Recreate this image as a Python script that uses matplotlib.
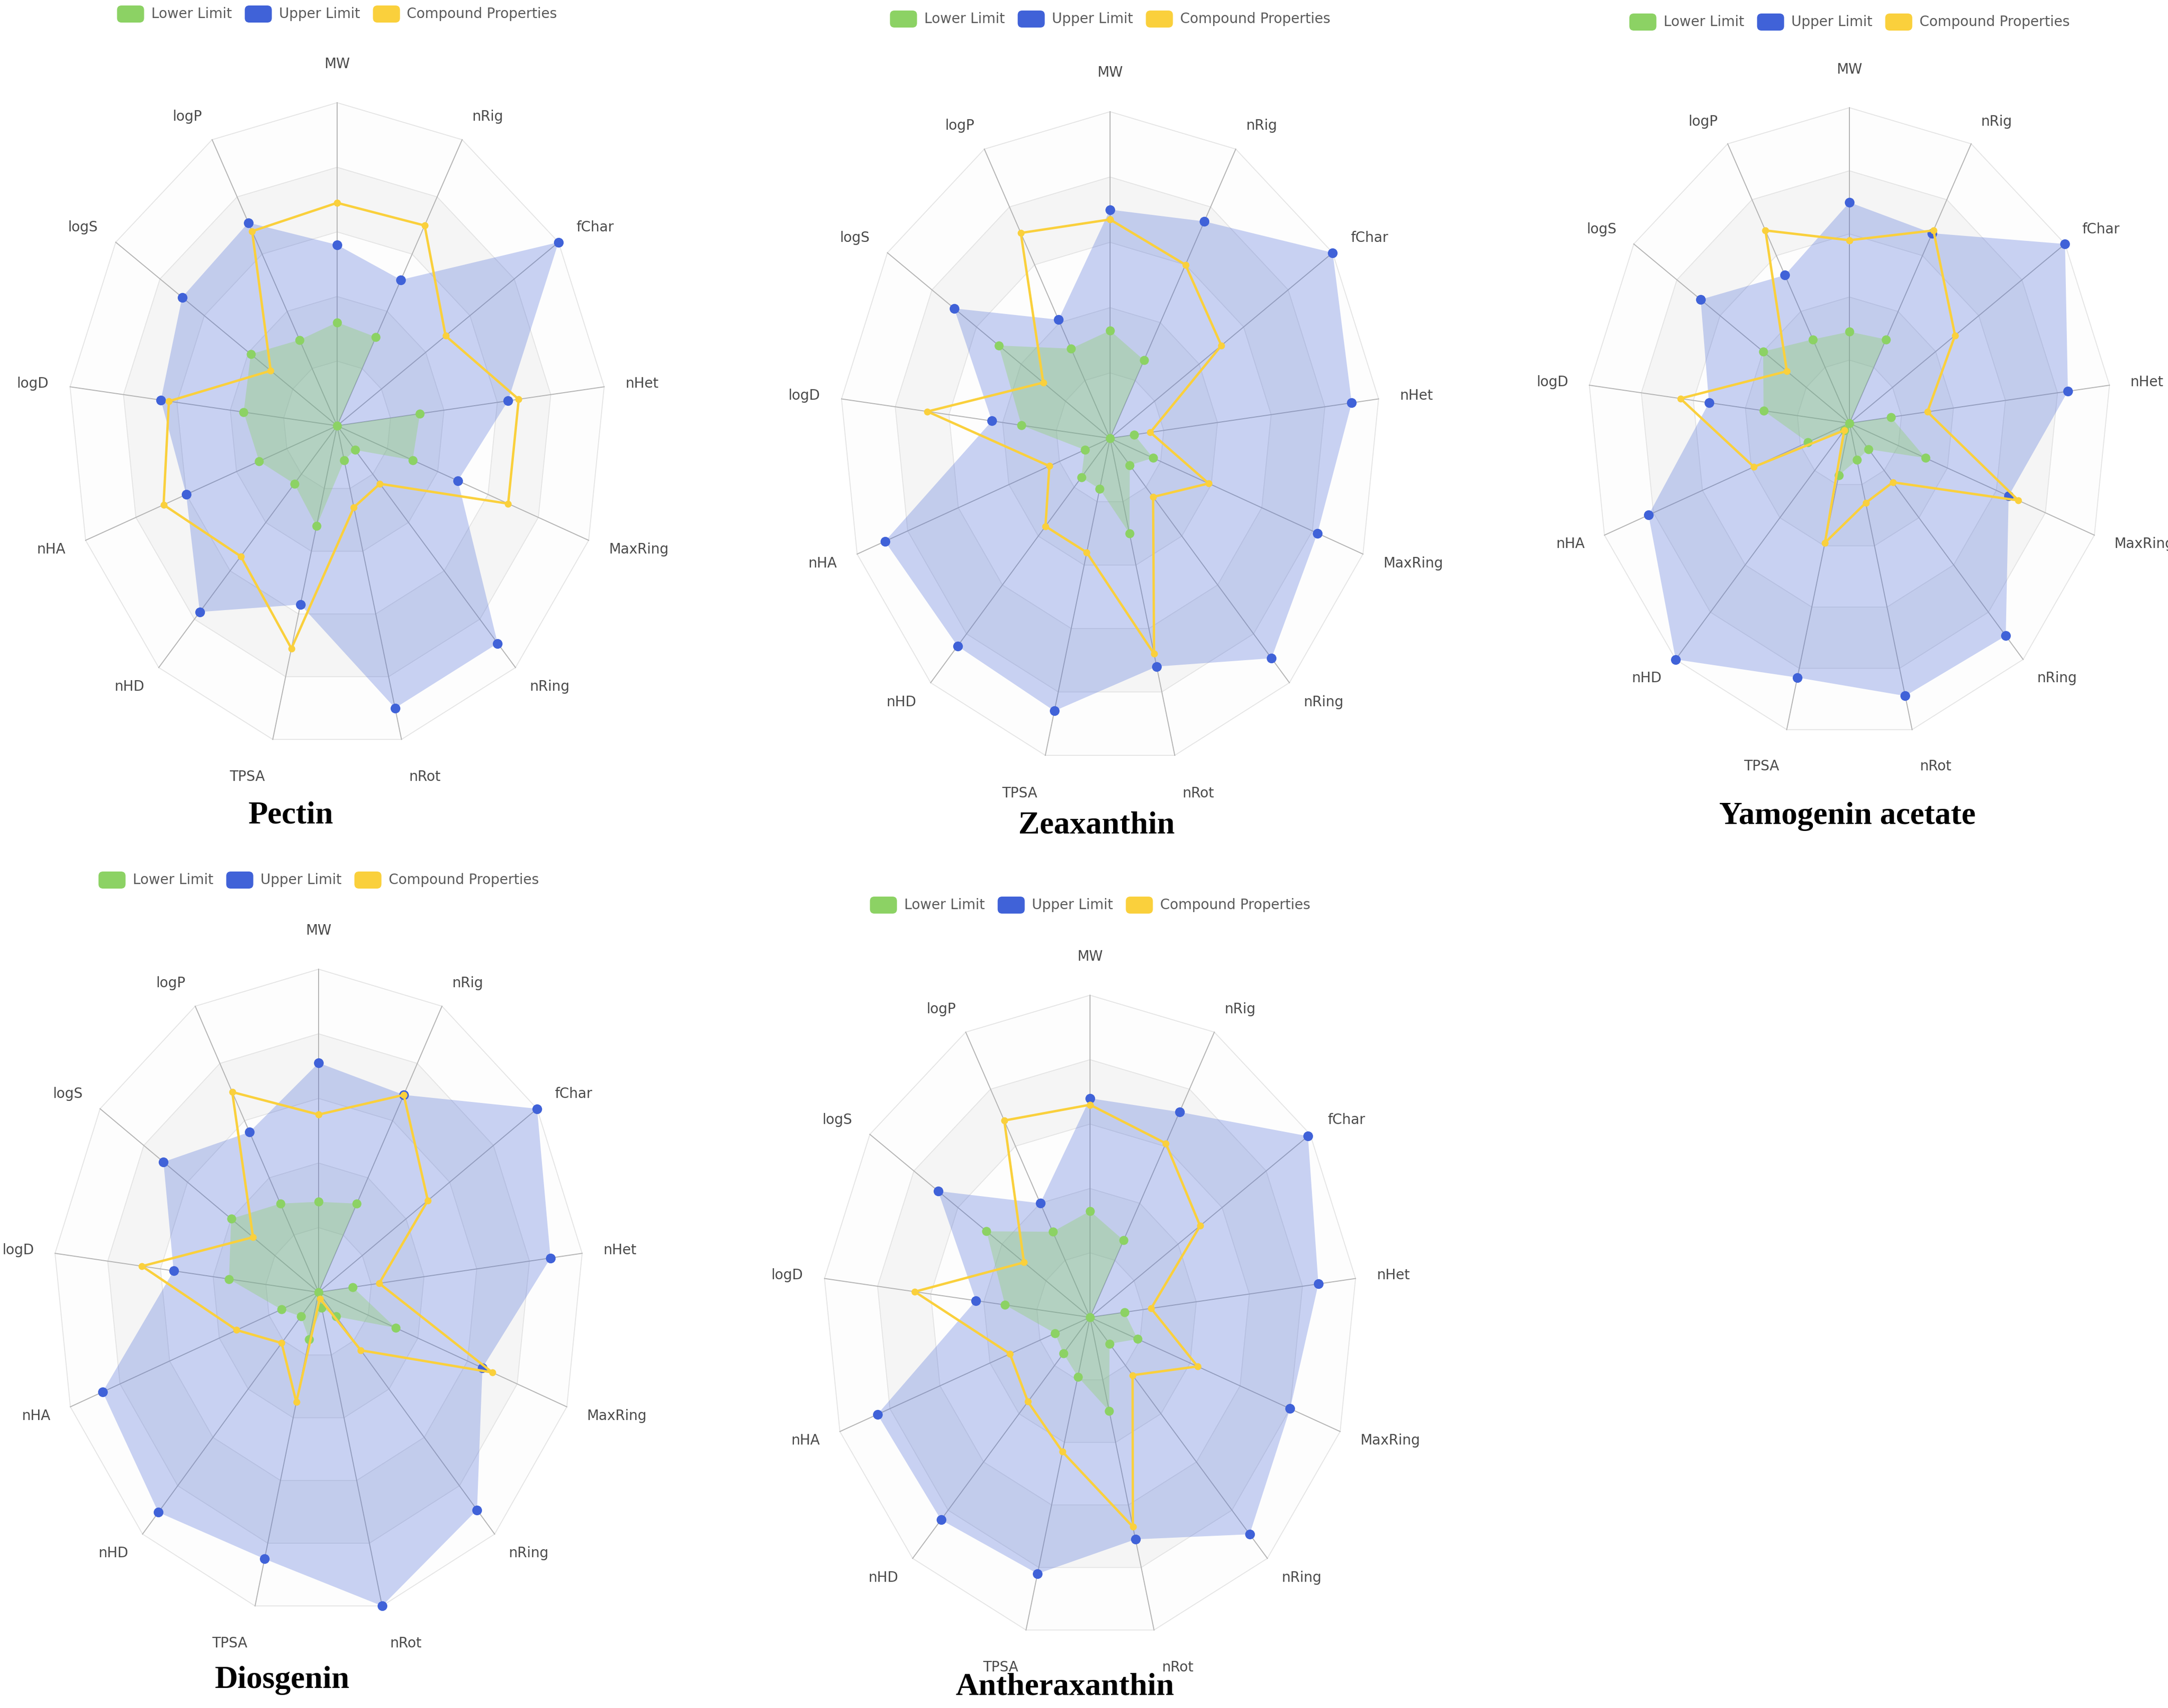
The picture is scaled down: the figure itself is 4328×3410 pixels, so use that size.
import numpy as np
import matplotlib.pyplot as plt
from matplotlib.patches import FancyBboxPatch

W, H = 4328, 3410

axis_names = ['MW', 'nRig', 'fChar', 'nHet', 'MaxRing', 'nRing', 'nRot',
              'TPSA', 'nHD', 'nHA', 'logD', 'logS', 'logP']

legend_names = ['Lower Limit', 'Upper Limit', 'Compound Properties']

# values, as a fraction of the outer ring
pectin_lower = [0.32, 0.31, 0.0, 0.31, 0.30, 0.10, 0.11, 0.32, 0.24, 0.31, 0.35, 0.39, 0.30]
pectin_upper = [0.56, 0.51, 1.0, 0.64, 0.48, 0.90, 0.90, 0.57, 0.77, 0.60, 0.66, 0.70, 0.71]
pectin_props = [0.69, 0.70, 0.49, 0.68, 0.68, 0.24, 0.26, 0.71, 0.54, 0.69, 0.63, 0.30, 0.68]

zeax_lower = [0.33, 0.27, 0.0, 0.09, 0.17, 0.11, 0.30, 0.16, 0.16, 0.10, 0.33, 0.50, 0.31]
zeax_upper = [0.70, 0.75, 1.0, 0.90, 0.82, 0.90, 0.72, 0.86, 0.85, 0.89, 0.44, 0.70, 0.41]
zeax_props = [0.67, 0.60, 0.50, 0.15, 0.39, 0.24, 0.68, 0.36, 0.36, 0.24, 0.68, 0.30, 0.71]

yamo_lower = [0.29, 0.30, 0.0, 0.16, 0.31, 0.11, 0.12, 0.17, 0.03, 0.17, 0.33, 0.40, 0.30]
yamo_upper = [0.70, 0.68, 1.0, 0.84, 0.65, 0.90, 0.89, 0.83, 1.0, 0.82, 0.54, 0.69, 0.53]
yamo_props = [0.58, 0.69, 0.49, 0.30, 0.69, 0.25, 0.26, 0.39, 0.03, 0.39, 0.65, 0.29, 0.69]

dios_lower = [0.28, 0.31, 0.0, 0.13, 0.31, 0.10, 0.05, 0.15, 0.10, 0.15, 0.34, 0.40, 0.31]
dios_upper = [0.71, 0.69, 1.0, 0.88, 0.66, 0.90, 1.0, 0.85, 0.91, 0.87, 0.55, 0.71, 0.56]
dios_props = [0.55, 0.69, 0.50, 0.23, 0.70, 0.24, 0.02, 0.35, 0.21, 0.33, 0.67, 0.30, 0.70]

anth_lower = [0.33, 0.27, 0.0, 0.13, 0.19, 0.11, 0.30, 0.19, 0.15, 0.14, 0.32, 0.47, 0.30]
anth_upper = [0.68, 0.72, 0.99, 0.86, 0.80, 0.90, 0.71, 0.82, 0.84, 0.85, 0.43, 0.69, 0.40]
anth_props = [0.66, 0.61, 0.50, 0.23, 0.43, 0.24, 0.67, 0.43, 0.35, 0.32, 0.66, 0.30, 0.69]

titles = ['Pectin', 'Zeaxanthin', 'Yamogenin acetate', 'Diosgenin', 'Antheraxanthin']
lowers = [pectin_lower, zeax_lower, yamo_lower, dios_lower, anth_lower]
uppers = [pectin_upper, zeax_upper, yamo_upper, dios_upper, anth_upper]
props = [pectin_props, zeax_props, yamo_props, dios_props, anth_props]

# layout (pixels, y from top)
centers = [(673, 850), (2216, 875), (3692, 845), (636, 2580), (2176, 2630)]
radii = [(537, 645), (540, 652), (523, 630), (530, 645), (534, 643)]
legend_y = [28, 38, 44, 1757, 1807]
title_pos = [(581, 1628), (2189, 1648), (3688, 1630), (564, 3355), (2126, 3368)]

green = '#8cd264'
blue = '#4062d8'
yellow = '#fad03c'

fig = plt.figure(figsize=(W / 100, H / 100), dpi=100)
fig.patch.set_facecolor('white')
over = fig.add_axes([0, 0, 1, 1], zorder=5)
over.set_xlim(0, W)
over.set_ylim(H, 0)
over.axis('off')
renderer = fig.canvas.get_renderer()

n = len(axis_names)
theta = 2 * np.pi * np.arange(n) / n
sx, sy = np.sin(theta), np.cos(theta)


def closed(a):
    return np.append(a, a[0])


def legend(cx, cy):
    texts, widths = [], []
    for name in legend_names:
        t = over.text(0, cy, name, fontsize=20, va='center', ha='left', color='#5a5a5a')
        texts.append(t)
        widths.append(t.get_window_extent(renderer).width)
    pw, ph, gt, gi = 54, 34, 14, 26
    total = sum(pw + gt + w for w in widths) + gi * (len(widths) - 1)
    x = cx - total / 2
    for col, t, w in zip([green, blue, yellow], texts, widths):
        over.add_patch(FancyBboxPatch((x, cy - ph / 2), pw, ph,
                                      boxstyle='round,pad=0,rounding_size=9',
                                      fc=col, ec='none'))
        t.set_x(x + pw + gt)
        x += pw + gt + w + gi


ext = 1.7
for k in range(len(titles)):
    cx, cy = centers[k]
    rh, rv = radii[k]
    ax = fig.add_axes([(cx - ext * rh) / W, 1 - (cy + ext * rv) / H,
                       2 * ext * rh / W, 2 * ext * rv / H])
    ax.set_xlim(-ext, ext)
    ax.set_ylim(-ext, ext)
    ax.axis('off')

    # split areas and lines
    for j in range(5, 0, -1):
        r = j / 5
        col = '#f5f5f5' if j % 2 == 0 else '#fdfdfd'
        ax.fill(closed(r * sx), closed(r * sy), color=col, lw=0, zorder=0)
        ax.plot(closed(r * sx), closed(r * sy), color='#e4e4e4', lw=1.3, zorder=1)
    for i in range(n):
        ax.plot([0, sx[i]], [0, sy[i]], color='#b4b4b4', lw=1.4, zorder=1)

    up = np.array(uppers[k])
    lo = np.array(lowers[k])
    pr = np.array(props[k])
    ax.fill(closed(up * sx), closed(up * sy), color=blue, alpha=0.28, lw=0, zorder=2)
    ax.fill(closed(lo * sx), closed(lo * sy), color=green, alpha=0.34, lw=0, zorder=3)
    ax.plot(up * sx, up * sy, 'o', color=blue, ms=14, mec='none', zorder=6)
    ax.plot(lo * sx, lo * sy, 'o', color=green, ms=13, mec='none', zorder=5)
    ax.plot(closed(pr * sx), closed(pr * sy), '-o', color=yellow, lw=3.4,
            ms=10, mec='none', zorder=7)

    for i, name in enumerate(axis_names):
        if abs(sx[i]) < 0.05:
            ha = 'center'
        elif sx[i] > 0:
            ha = 'left'
        else:
            ha = 'right'
        rl = 1.12 if abs(sx[i]) < 0.3 else 1.08
        ax.text(rl * sx[i], rl * sy[i], name, ha=ha, va='center',
                fontsize=20, color='#4a4a4a')

    legend(cx, legend_y[k])
    tx, ty = title_pos[k]
    over.text(tx, ty, titles[k], ha='center', va='center', fontsize=46,
              fontweight='bold', family='Liberation Serif', color='black')

fig.savefig('out.png', dpi=100, facecolor='white')
